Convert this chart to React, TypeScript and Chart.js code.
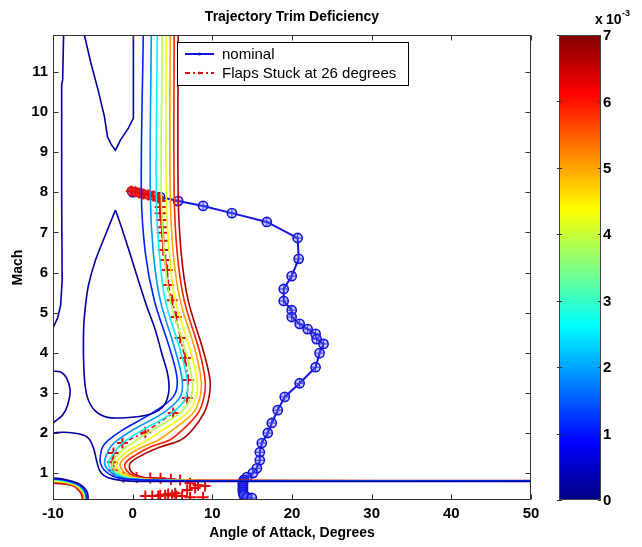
import React, { useEffect, useRef } from "react";
import { Chart, registerables } from "chart.js";
Chart.register(...registerables);

type P = [number, number];

// ---------- axes ----------
const X_TICKS = [-10, 0, 10, 20, 30, 40, 50];
const Y_TICKS = [1, 2, 3, 4, 5, 6, 7, 8, 9, 10, 11];
const X_MIN = -10;
const X_MAX = 50;
const Y_MIN = 0.33;
const Y_MAX = 11.92;
const CB_TICKS = [0, 1, 2, 3, 4, 5, 6, 7];
const CB_MIN = 0;
const CB_MAX = 7;

// contour level values (x 10^-3)
const LEVELS = [0.25, 1.1, 1.9, 2.6, 3.85, 4.3, 5.0, 5.9, 6.7];

// ---------- trajectories ----------
const NOMINAL: P[] = [
  [0, 8.0], [3.46, 7.88], [5.71, 7.78], [8.84, 7.66], [12.46, 7.48], [16.84, 7.26],
  [20.71, 6.86], [20.84, 6.34], [19.96, 5.91], [18.96, 5.59], [18.96, 5.29], [19.96, 5.06],
  [19.96, 4.89], [20.96, 4.72], [21.96, 4.59], [22.96, 4.47], [23.09, 4.34], [23.96, 4.22],
  [23.46, 3.99], [22.96, 3.64], [20.96, 3.24], [19.09, 2.9], [18.21, 2.57], [17.46, 2.25],
  [16.96, 2.0], [16.21, 1.75], [15.96, 1.52], [15.96, 1.32], [15.59, 1.12], [15.09, 1.0],
  [14.34, 0.9], [13.96, 0.83], [13.84, 0.78], [13.84, 0.73], [13.84, 0.68], [13.84, 0.63],
  [13.84, 0.58], [13.84, 0.53], [13.9, 0.48], [13.96, 0.44], [14.34, 0.4], [14.96, 0.38],
];

const FLAPS: P[] = [
  [-0.16, 8.03], [0.34, 8.01], [0.84, 7.98], [1.34, 7.96], [1.96, 7.93], [2.59, 7.91],
  [3.21, 7.86], [3.46, 7.78], [3.46, 7.63], [3.46, 7.48], [3.59, 7.31], [3.71, 7.13],
  [3.71, 6.99], [3.84, 6.79], [3.84, 6.56], [4.09, 6.31], [4.34, 6.06], [4.46, 5.69],
  [4.96, 5.31], [5.46, 4.89], [5.96, 4.37], [6.59, 3.87], [6.96, 3.32], [6.84, 2.87],
  [5.09, 2.5], [1.59, 2.02], [-1.29, 1.75], [-2.41, 1.5], [-2.54, 1.27], [-2.41, 1.07],
  [-1.16, 0.9], [0.5, 0.89], [2.21, 0.88], [3.5, 0.87], [4.8, 0.85], [5.96, 0.83],
  [7.21, 0.75], [8.21, 0.7], [9.09, 0.68], [7.84, 0.63], [6.84, 0.58], [5.34, 0.5],
  [3.46, 0.45], [1.59, 0.43], [2.46, 0.43], [3.21, 0.43], [4.09, 0.45], [4.46, 0.48],
  [4.96, 0.45], [5.46, 0.43], [6.21, 0.43], [7.21, 0.4], [8.84, 0.4],
];
const FLAPS_CIRCLED = 7; // first points drawn with circles

// ---------- contour lines (alpha, mach) ----------
const NAVY_FAR_LEFT: P[] = [
  [-8.66, 12.0], [-8.79, 10.8], [-8.91, 10.68], [-8.91, 7.81], [-8.85, 5.81], [-9.04, 5.19], [-9.41, 4.87], [-10, 4.62],
];
const NAVY_BUBBLE: P[] = [
  [-10, 3.54], [-9.04, 3.52], [-8.29, 3.37], [-7.85, 3.07], [-8.16, 2.7], [-8.79, 2.45], [-9.66, 2.3], [-10, 2.25],
];
const NAVY_LOWER: P[] = [
  [-10, 2.0], [-8.66, 2.02], [-6.54, 1.97], [-5.54, 1.87], [-4.91, 1.62], [-4.54, 1.32], [-4.16, 1.07],
  [-3.54, 0.93], [-2.41, 0.85], [-0.29, 0.8], [8.46, 0.795], [50, 0.795],
];
const NAVY_TOP_V: P[] = [
  [-6.16, 12.0], [-5.29, 11.26], [-4.29, 10.51], [-3.54, 9.88], [-3.16, 9.38], [-2.66, 9.18], [-2.16, 9.05],
  [-1.54, 9.3], [-0.54, 9.6], [0.09, 9.85], [0.09, 10.8], [0.09, 12.0],
];
const NAVY_LOOP: P[] = [
  [-2.16, 7.56], [-1.29, 7.06], [-0.29, 6.44], [0.71, 5.81], [1.71, 5.19], [2.84, 4.57], [3.7, 3.95],
  [4.3, 3.55], [4.55, 3.25], [4.5, 2.98], [4.1, 2.74], [3.3, 2.57], [2.2, 2.47], [0.8, 2.41], [-0.91, 2.38],
  [-3.16, 2.39], [-4.7, 2.55], [-5.7, 2.9], [-6.1, 3.5], [-6.16, 4.57], [-5.91, 5.19], [-5.54, 5.69],
  [-4.66, 6.31], [-3.41, 6.94], [-2.16, 7.56],
];
const BAND_BLUE: P[] = [
  [1.34, 12], [1.09, 7.98], [1.59, 6.49], [2.71, 5.31], [4.71, 4.07], [5.59, 3.32], [5.09, 2.9], [2.46, 2.5],
  [-1.29, 2.07], [-3.04, 1.82], [-3.79, 1.65], [-4.04, 1.45], [-4.04, 1.25], [-3.54, 1.07], [-2.54, 0.93],
  [-0.91, 0.85], [8.46, 0.805], [50, 0.8],
];
const BAND_LIGHTBLUE: P[] = [
  [2.34, 12], [2.21, 7.98], [2.59, 6.49], [3.46, 5.31], [5.34, 4.07], [6.21, 3.32], [5.96, 2.9], [3.84, 2.5],
  [-0.04, 2.07], [-1.91, 1.82], [-2.79, 1.65], [-3.29, 1.45], [-3.54, 1.25], [-3.04, 1.07], [-1.91, 0.93],
  [-0.29, 0.85], [8.46, 0.805], [50, 0.8],
];
const BAND_CYAN: P[] = [
  [3.09, 12], [2.96, 7.98], [3.34, 6.49], [4.09, 5.31], [5.96, 4.07], [6.84, 3.32], [6.71, 2.9], [4.96, 2.5],
  [1.21, 2.07], [-0.79, 1.82], [-1.79, 1.65], [-2.54, 1.45], [-3.04, 1.25], [-2.66, 1.07], [-1.54, 0.93],
  [0.09, 0.85], [8.46, 0.807], [50, 0.802],
];
const BAND_GREEN: P[] = [
  [3.71, 12], [3.59, 7.98], [3.96, 6.49], [4.71, 5.31], [6.59, 4.07], [7.46, 3.32], [7.34, 2.9], [5.96, 2.5],
  [2.46, 2.07], [0.46, 1.82], [-0.79, 1.65], [-1.91, 1.45], [-2.54, 1.25], [-2.29, 1.07], [-1.16, 0.93],
  [0.46, 0.85], [8.46, 0.808], [50, 0.803],
];
const BAND_YELLOW: P[] = [
  [4.21, 12], [4.21, 7.98], [4.59, 6.49], [5.34, 5.31], [7.21, 4.07], [8.09, 3.32], [7.96, 2.9], [6.84, 2.5],
  [3.71, 2.07], [1.84, 1.82], [0.21, 1.65], [-1.29, 1.45], [-2.04, 1.25], [-1.79, 1.07], [-0.79, 0.93],
  [0.96, 0.85], [8.46, 0.81], [50, 0.804],
];
const BAND_ORANGE: P[] = [
  [4.71, 12], [4.71, 7.98], [5.09, 6.49], [5.96, 5.31], [7.84, 4.07], [8.59, 3.32], [8.46, 2.9], [7.59, 2.5],
  [4.96, 2.07], [3.21, 1.82], [1.21, 1.65], [-0.54, 1.45], [-1.54, 1.25], [-1.29, 1.07], [-0.29, 0.93],
  [1.59, 0.85], [8.46, 0.812], [50, 0.805],
];
const BAND_RED: P[] = [
  [5.21, 12], [5.21, 7.98], [5.59, 6.49], [6.46, 5.31], [8.34, 4.07], [9.09, 3.32], [8.96, 2.9], [8.21, 2.5],
  [6.21, 2.07], [4.59, 1.82], [2.21, 1.65], [0.34, 1.45], [-0.91, 1.25], [-0.79, 1.07], [0.21, 0.93],
  [2.21, 0.85], [9.71, 0.815], [50, 0.808],
];
const BAND_DARKRED: P[] = [
  [5.71, 12], [5.71, 7.98], [6.09, 6.49], [6.96, 5.31], [8.84, 4.07], [9.71, 3.32], [9.59, 2.9], [8.96, 2.5],
  [7.46, 2.07], [5.96, 1.82], [3.46, 1.65], [1.21, 1.45], [-0.29, 1.25], [-0.29, 1.07], [0.71, 0.93],
  [2.84, 0.85], [10.34, 0.82], [50, 0.812],
];
const CORNER_NAVY: P[] = [[-10, 0.88], [-8.5, 0.84], [-6.9, 0.75], [-6.16, 0.65], [-5.66, 0.5], [-5.6, 0.3]];
const CORNER_BLUE: P[] = [[-10, 0.86], [-8.5, 0.82], [-7.0, 0.73], [-6.3, 0.63], [-5.85, 0.48], [-5.8, 0.3]];
const CORNER_CYAN: P[] = [[-10, 0.84], [-8.5, 0.8], [-7.1, 0.72], [-6.4, 0.61], [-5.95, 0.47], [-5.9, 0.3]];
const CORNER_YELLOW: P[] = [[-10, 0.81], [-8.6, 0.78], [-7.2, 0.71], [-6.45, 0.59], [-6.05, 0.46], [-6.0, 0.3]];
const CORNER_ORANGE: P[] = [[-10, 0.79], [-8.6, 0.77], [-7.3, 0.7], [-6.5, 0.57], [-6.15, 0.45], [-6.1, 0.3]];
const CORNER_RED: P[] = [[-10, 0.77], [-8.6, 0.75], [-7.35, 0.69], [-6.55, 0.55], [-6.25, 0.44], [-6.2, 0.3]];
const CORNER_DARKRED: P[] = [[-10, 0.75], [-8.66, 0.73], [-7.41, 0.68], [-6.6, 0.53], [-6.35, 0.42], [-6.3, 0.3]];

// [level index, points, smooth]
const CONTOURS: [number, P[], boolean][] = [
  [0, NAVY_FAR_LEFT, false],
  [0, NAVY_BUBBLE, true],
  [0, NAVY_TOP_V, false],
  [0, NAVY_LOOP, true],
  [0, CORNER_NAVY, true],
  [1, CORNER_BLUE, true],
  [3, CORNER_CYAN, true],
  [5, CORNER_YELLOW, true],
  [6, CORNER_ORANGE, true],
  [7, CORNER_RED, true],
  [8, CORNER_DARKRED, true],
  [0, NAVY_LOWER, true],
  [1, BAND_BLUE, true],
  [2, BAND_LIGHTBLUE, true],
  [3, BAND_CYAN, true],
  [4, BAND_GREEN, true],
  [5, BAND_YELLOW, true],
  [6, BAND_ORANGE, true],
  [7, BAND_RED, true],
  [8, BAND_DARKRED, true],
];

const TITLE = "Trajectory Trim Deficiency";
const X_LABEL = "Angle of Attack, Degrees";
const Y_LABEL = "Mach";
const NOMINAL_LABEL = "nominal";
const FLAPS_LABEL = "Flaps Stuck at 26 degrees";

const FONT = "'Liberation Sans', Arial, Helvetica, sans-serif";
const NOMINAL_COLOR = "rgb(20,20,225)";
const FLAPS_COLOR = "rgb(230,10,10)";

function jet(t: number): [number, number, number] {
  const c = (v: number) => Math.max(0, Math.min(1, v));
  return [
    c(Math.min(4 * t - 1.5, -4 * t + 4.5)),
    c(Math.min(4 * t - 0.5, -4 * t + 3.5)),
    c(Math.min(4 * t + 0.5, -4 * t + 2.5)),
  ];
}
function jetCss(t: number): string {
  const [r, g, b] = jet(t);
  return `rgb(${Math.round(r * 255)},${Math.round(g * 255)},${Math.round(b * 255)})`;
}
const toXY = (pts: P[]) => pts.map(([x, y]) => ({ x, y }));

const decorPlugin = {
  id: "decor",
  afterDraw(chart: any) {
    const { ctx, chartArea: a, scales } = chart;
    const xs = scales.x;
    const ys = scales.y;
    ctx.save();
    // box
    const L = Math.round(a.left) + 0.5;
    const T = Math.round(a.top) + 0.5;
    const R = Math.round(a.right) - 0.5;
    const B = Math.round(a.bottom) - 0.5;
    ctx.strokeStyle = "#333";
    ctx.lineWidth = 1;
    ctx.strokeRect(L, T, R - L, B - T);
    // inner ticks
    const tl = 5;
    ctx.beginPath();
    X_TICKS.forEach((v) => {
      const px = Math.round(xs.getPixelForValue(v)) + 0.5;
      ctx.moveTo(px, B);
      ctx.lineTo(px, B - tl);
      ctx.moveTo(px, T);
      ctx.lineTo(px, T + tl);
    });
    Y_TICKS.forEach((v) => {
      const py = Math.round(ys.getPixelForValue(v)) + 0.5;
      ctx.moveTo(L, py);
      ctx.lineTo(L + tl, py);
      ctx.moveTo(R, py);
      ctx.lineTo(R - tl, py);
    });
    ctx.stroke();

    // titles
    ctx.fillStyle = "#000";
    ctx.textAlign = "center";
    ctx.textBaseline = "middle";
    ctx.font = `bold 14px ${FONT}`;
    const cx = (a.left + a.right) / 2;
    ctx.fillText(TITLE, cx, 17);
    ctx.fillText(X_LABEL, cx, 533);
    ctx.save();
    ctx.translate(18, (a.top + a.bottom) / 2);
    ctx.rotate(-Math.PI / 2);
    ctx.fillText(Y_LABEL, 0, 0);
    ctx.restore();

    // legend
    const lx = 177.5, ly = 42.5, lw = 231, lh = 43;
    ctx.fillStyle = "#fff";
    ctx.fillRect(lx, ly, lw, lh);
    ctx.strokeStyle = "#000";
    ctx.lineWidth = 1;
    ctx.strokeRect(lx, ly, lw, lh);
    const rows = [
      { label: NOMINAL_LABEL, color: NOMINAL_COLOR, dash: [] as number[], y: 54 },
      { label: FLAPS_LABEL, color: FLAPS_COLOR, dash: [5, 3, 2, 3], y: 73 },
    ];
    rows.forEach((r) => {
      ctx.strokeStyle = r.color;
      ctx.lineWidth = 2;
      ctx.setLineDash(r.dash);
      ctx.beginPath();
      ctx.moveTo(185, r.y);
      ctx.lineTo(214, r.y);
      ctx.stroke();
      ctx.setLineDash([]);
      ctx.fillStyle = r.color;
      ctx.beginPath();
      ctx.arc(199.5, r.y, 1.6, 0, Math.PI * 2);
      ctx.fill();
      ctx.fillStyle = "#000";
      ctx.font = `15px ${FONT}`;
      ctx.textAlign = "left";
      ctx.textBaseline = "middle";
      ctx.fillText(r.label, 222, r.y + 0.5);
    });

    // colorbar
    const cbL = 559, cbR = 601, cbT = a.top, cbB = a.bottom;
    const grad = ctx.createLinearGradient(0, cbB, 0, cbT);
    for (let i = 0; i <= 32; i++) grad.addColorStop(i / 32, jetCss(i / 32));
    ctx.fillStyle = grad;
    ctx.fillRect(cbL, cbT, cbR - cbL, cbB - cbT);
    ctx.strokeStyle = "#444";
    ctx.lineWidth = 1;
    ctx.strokeRect(cbL + 0.5, Math.round(cbT) + 0.5, cbR - cbL - 1, Math.round(cbB - cbT) - 1);
    ctx.font = `bold 15px ${FONT}`;
    ctx.textAlign = "left";
    ctx.textBaseline = "middle";
    CB_TICKS.forEach((v) => {
      const py = cbB - ((v - CB_MIN) / (CB_MAX - CB_MIN)) * (cbB - cbT);
      const yy = Math.round(py) + 0.5;
      ctx.strokeStyle = "#333";
      ctx.beginPath();
      ctx.moveTo(cbL - 2, yy);
      ctx.lineTo(cbL + 3, yy);
      ctx.moveTo(cbR, yy);
      ctx.lineTo(cbR - 3, yy);
      ctx.stroke();
      ctx.fillStyle = "#000";
      ctx.fillText(String(v), 603, py + 1);
    });
    ctx.font = `bold 14px ${FONT}`;
    ctx.textBaseline = "alphabetic";
    ctx.fillText("x", 595, 24);
    ctx.fillText("10", 606, 24);
    ctx.font = `bold 9px ${FONT}`;
    ctx.fillText("-3", 622, 16);
    ctx.restore();
  },
};

export default function App() {
  const ref = useRef<HTMLCanvasElement>(null);
  useEffect(() => {
    if (!ref.current) return;
    const datasets: any[] = CONTOURS.map(([lvl, pts, smooth]) => ({
      label: "contour",
      data: toXY(pts),
      showLine: true,
      borderColor: jetCss(LEVELS[lvl] / (CB_MAX - CB_MIN)),
      borderWidth: 1.6,
      pointRadius: 0,
      tension: smooth ? 0.35 : 0,
      fill: false,
    }));
    datasets.push({
      label: FLAPS_LABEL,
      data: toXY(FLAPS),
      showLine: true,
      borderColor: FLAPS_COLOR,
      borderWidth: 1.5,
      borderDash: [5, 3, 2, 3],
      pointStyle: "cross",
      pointRadius: 5.5,
      pointBorderWidth: 2,
      pointBorderColor: FLAPS_COLOR,
      tension: 0,
    });
    datasets.push({
      label: FLAPS_LABEL + " start",
      data: toXY(FLAPS.slice(0, FLAPS_CIRCLED)),
      showLine: false,
      pointStyle: "circle",
      pointRadius: 4,
      pointBorderWidth: 1.8,
      pointBorderColor: FLAPS_COLOR,
      pointBackgroundColor: "rgba(255,120,120,0.4)",
    });
    datasets.push({
      label: NOMINAL_LABEL,
      data: toXY(NOMINAL),
      showLine: true,
      borderColor: NOMINAL_COLOR,
      borderWidth: 2,
      pointStyle: "circle",
      pointRadius: 4.6,
      pointBorderWidth: 1.6,
      pointBorderColor: NOMINAL_COLOR,
      pointBackgroundColor: "rgba(110,110,255,0.35)",
      tension: 0,
    });
    datasets.push({
      label: NOMINAL_LABEL + " cross",
      data: toXY(NOMINAL),
      showLine: false,
      pointStyle: "cross",
      pointRadius: 3.8,
      pointBorderWidth: 1,
      pointBorderColor: NOMINAL_COLOR,
    });

    const tickFont = { family: FONT, size: 15, weight: "bold" as const };
    const chart = new Chart(ref.current, {
      type: "scatter",
      data: { datasets },
      plugins: [decorPlugin],
      options: {
        responsive: false,
        maintainAspectRatio: false,
        animation: false,
        devicePixelRatio: 1,
        events: [],
        layout: { padding: { top: 35, left: 0, right: 111, bottom: 0 } },
        plugins: {
          legend: { display: false },
          tooltip: { enabled: false },
          title: { display: false },
        },
        scales: {
          x: {
            type: "linear",
            min: X_MIN,
            max: X_MAX,
            afterBuildTicks: (s: any) => {
              s.ticks = X_TICKS.map((v) => ({ value: v }));
            },
            afterFit: (s: any) => {
              s.height = 47;
            },
            grid: { display: false, drawTicks: false },
            border: { display: false },
            ticks: { font: tickFont, color: "#000", padding: 5, maxRotation: 0, autoSkip: false },
          },
          y: {
            type: "linear",
            min: Y_MIN,
            max: Y_MAX,
            afterBuildTicks: (s: any) => {
              s.ticks = Y_TICKS.map((v) => ({ value: v }));
            },
            afterFit: (s: any) => {
              s.width = 53;
            },
            grid: { display: false, drawTicks: false },
            border: { display: false },
            ticks: { font: tickFont, color: "#000", padding: 5, autoSkip: false },
          },
        },
      },
    } as any);
    return () => chart.destroy();
  }, []);
  return (
    <div style={{ position: "fixed", left: 0, top: 0, width: 642, height: 547, background: "#fff" }}>
      <canvas ref={ref} width={642} height={547} style={{ width: 642, height: 547, display: "block" }} />
    </div>
  );
}
